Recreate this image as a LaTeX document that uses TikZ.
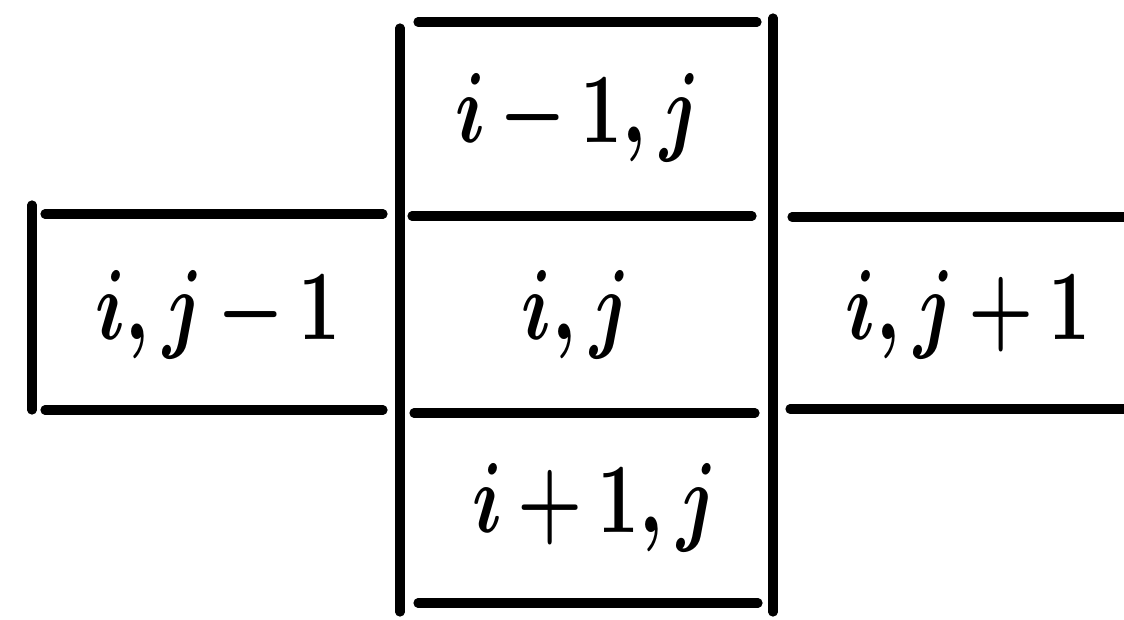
\documentclass[tikz,border=0pt]{standalone}
\usepackage{graphicx}
\newcommand{\biglab}[1]{\scalebox{1.5}[2.0]{\Huge\boldmath\medmuskip=3mu$#1$}}
\begin{document}
\begin{tikzpicture}[x=0.5pt,y=-0.5pt,
  rule/.style={line width=4.6pt,line cap=round},
  lab/.style={anchor=base,inner sep=0pt}]
\useasboundingbox (0,0) rectangle (1124,620);
% vertical rules
\draw[rule] (32,205) -- (32,410);
\draw[rule] (400,28) -- (400,612);
\draw[rule] (773,18) -- (773,612);
% horizontal rules
\draw[rule] (418,22) -- (757,22);
\draw[rule] (45,214) -- (383,214);
\draw[rule] (412,216) -- (752,216);
\draw[rule] (792,217) -- (1124,217);
\draw[rule] (45,410) -- (383,410);
\draw[rule] (414,413) -- (755,413);
\draw[rule] (790,409) -- (1124,409);
\draw[rule] (418,603) -- (758,603);
% labels
\node[lab] (up) at (578,143) {\biglab{i-1,j}};
\node[lab] (left) at (218,339) {\biglab{i,j-1}};
\node[lab] (mid) at (576,339) {\biglab{i,j}};
\node[lab] (right) at (968,339) {\biglab{i,j+1}};
\node[lab] (down) at (595,532) {\biglab{i+1,j}};
\end{tikzpicture}
\end{document}
